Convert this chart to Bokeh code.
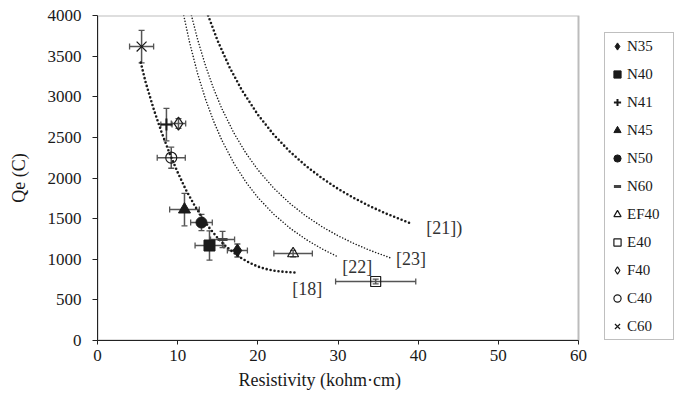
from bokeh.plotting import figure
from bokeh.models import (Range1d, Legend, LegendItem, Whisker, ColumnDataSource,
                          TeeHead, Label, FixedTicker, BoxAnnotation, Title)
from bokeh.embed import file_html
from bokeh.resources import INLINE

# ---------------- data ----------------
series = ["N35", "N40", "N41", "N45", "N50", "N60", "EF40", "E40", "F40", "C40", "C60"]
resistivity = [17.45, 13.97, 8.6, 10.85, 12.97, 15.6, 24.4, 34.7, 10.1, 9.2, 5.5]
qe = [1108, 1169, 2658, 1612, 1452, 1243, 1070, 726, 2670, 2250, 3618]
resistivity_err = [1.25, 1.8, 0.7, 1.85, 1.35, 1.5, 2.4, 5.0, 0.9, 1.75, 1.5]
qe_err = [80, 180, 200, 200, 100, 100, 40, 30, 60, 130, 200]

ref18_x = [5.4, 6, 7, 8, 9, 10, 11, 12, 13, 14, 15, 16, 17, 18, 19, 20, 21, 22, 23, 24, 24.8]
ref18_y = [3420, 3180, 2850, 2560, 2300, 2070, 1860, 1680, 1520, 1380, 1260, 1160, 1080,
           1010, 955, 910, 880, 860, 848, 840, 835]
ref22_x = [10.76, 11.5, 12.5, 13.5, 14.5, 15.5, 17, 18.5, 20, 22, 24, 26, 28, 29.9]
ref22_y = [4000, 3663, 3280, 2962, 2695, 2467, 2183, 1952, 1760, 1552, 1383, 1244, 1128, 1034]
ref23_x = [11.72, 12.5, 13.5, 14.5, 15.5, 17, 18.5, 20, 22, 24, 26, 28, 30, 32, 34, 36.5]
ref23_y = [4000, 3701, 3373, 3095, 2856, 2556, 2308, 2101, 1873, 1687, 1532, 1401, 1289,
           1193, 1109, 1018]
ref21_x = [13.8, 15, 16.5, 18, 20, 22, 24, 26, 28, 30, 32, 34, 36, 39]
ref21_y = [4000, 3686, 3357, 3082, 2780, 2531, 2324, 2149, 1998, 1867, 1753, 1652, 1562, 1444]
curve_labels = ["[18]", "[22]", "[23]", "[21])"]

x_min, x_max = 0, 60
y_min, y_max = 0, 4000
x_ticks = [0, 10, 20, 30, 40, 50, 60]
y_ticks = [0, 500, 1000, 1500, 2000, 2500, 3000, 3500, 4000]

# ---------------- style / layout ----------------
FONT = "Liberation Serif"
TXT = "#1a1a1a"
INK = "#1a1a1a"
BAR = "#555555"

W, H = 675, 400
LEFT, TOP, BOTTOM = 97, 15, 60
AXES_W = 481                     # width of the drawn axes box in px
FRAME_W = W - LEFT               # frame runs to the right edge so the legend can sit beside the box
x_view_end = x_min + (x_max - x_min) * FRAME_W / AXES_W

marker_style = {
    "N35": dict(marker="diamond", size=13, fill_color=INK, line_color=INK),
    "N40": dict(marker="square", size=11, fill_color=INK, line_color=INK),
    "N41": dict(marker="cross", size=12, fill_color=None, line_color=INK, line_width=2),
    "N45": dict(marker="triangle", size=12, fill_color=INK, line_color=INK),
    "N50": dict(marker="circle", size=11, fill_color=INK, line_color=INK),
    "N60": dict(marker="dash", size=10, fill_color=None, line_color="#444444", line_width=3),
    "EF40": dict(marker="triangle", size=11, fill_color=None, line_color=INK, line_width=1.2),
    "E40": dict(marker="square", size=10, fill_color=None, line_color=INK, line_width=1.2),
    "F40": dict(marker="diamond", size=13, fill_color=None, line_color=INK, line_width=1.2),
    "C40": dict(marker="circle", size=11, fill_color=None, line_color=INK, line_width=1.2),
    "C60": dict(marker="x", size=14, fill_color=None, line_color=INK, line_width=1.2),
}

p = figure(width=W, height=H, output_backend="svg", toolbar_location=None,
           x_range=Range1d(x_min, x_view_end), y_range=Range1d(y_min, y_max),
           min_border_left=LEFT, min_border_right=0, min_border_top=TOP,
           min_border_bottom=BOTTOM)
p.grid.visible = False
p.outline_line_color = None
p.background_fill_color = "white"
p.border_fill_color = "white"

# axes box (top and right edges of the plot area)
p.add_layout(BoxAnnotation(left=x_min, right=x_max, bottom=y_min, top=y_max,
                           fill_alpha=0, line_color="#222222", line_width=2,
                           level="underlay"))

for ax in (p.xaxis[0], p.yaxis[0]):
    ax.axis_line_color = "#222222"
    ax.major_tick_line_color = "#222222"
    ax.minor_tick_line_color = None
    ax.major_tick_in = 0
    ax.major_label_text_font = FONT
    ax.major_label_text_font_size = "17px"
    ax.major_label_text_color = TXT
    ax.axis_label_text_font = FONT
    ax.axis_label_text_font_style = "normal"
    ax.axis_label_text_font_size = "18px"
    ax.axis_label_text_color = TXT

p.xaxis.bounds = (x_min, x_max)
p.xaxis.ticker = FixedTicker(ticks=x_ticks)
p.yaxis.ticker = FixedTicker(ticks=y_ticks)
p.xaxis.major_tick_out = 4
p.yaxis.major_tick_out = 5
p.xaxis.major_label_standoff = 5
p.yaxis.major_label_standoff = 11
p.yaxis.axis_label = "Qe (C)"
p.yaxis.axis_label_standoff = 16

p.add_layout(Title(text="Resistivity (kohm·cm)", align="left", offset=141,
                   text_font=FONT, text_font_size="18px", text_font_style="normal",
                   text_color=TXT, standoff=8), "below")

# fitted curves (dotted)
curves = [
    (ref18_x, ref18_y, 2.6, "0 4"),
    (ref22_x, ref22_y, 1.6, "0 3"),
    (ref23_x, ref23_y, 1.6, "0 3"),
    (ref21_x, ref21_y, 2.6, "0 4"),
]
for xs, ys, w, dash in curves:
    p.line(xs, ys, line_color=INK, line_width=w, line_dash=dash, line_cap="round")

# curve labels anchored to curve ends
label_offsets = [(-4, -16), (5, -11), (6, -1), (16, -5)]
for (xs, ys, _, _), txt, (dx, dy) in zip(curves, curve_labels, label_offsets):
    p.add_layout(Label(x=xs[-1], y=ys[-1], x_offset=dx, y_offset=dy, text=txt,
                       text_font=FONT, text_font_size="18px", text_color="#333333",
                       text_align="left", text_baseline="middle"))

# error bars
src = ColumnDataSource(dict(
    x=resistivity, y=qe,
    x_lo=[a - e for a, e in zip(resistivity, resistivity_err)],
    x_hi=[a + e for a, e in zip(resistivity, resistivity_err)],
    y_lo=[a - e for a, e in zip(qe, qe_err)],
    y_hi=[a + e for a, e in zip(qe, qe_err)],
))


def head():
    return TeeHead(size=6, line_color=BAR, line_width=1.3)


p.add_layout(Whisker(source=src, base="x", lower="y_lo", upper="y_hi", dimension="height",
                     line_color=BAR, line_width=1.5, lower_head=head(), upper_head=head(),
                     level="underlay"))
p.add_layout(Whisker(source=src, base="y", lower="x_lo", upper="x_hi", dimension="width",
                     line_color=BAR, line_width=1.5, lower_head=head(), upper_head=head(),
                     level="underlay"))

items = []
for name, xv, yv in zip(series, resistivity, qe):
    r = p.scatter([xv], [yv], **marker_style[name])
    items.append(LegendItem(label=name, renderers=[r]))

legend = Legend(items=items, location=(AXES_W + 26, 0), orientation="vertical",
                label_text_font=FONT, label_text_font_size="15px", label_text_color=TXT,
                border_line_color="#808080", border_line_width=1,
                background_fill_color="white", background_fill_alpha=1.0,
                padding=3, spacing=8, margin=0,
                glyph_width=18, glyph_height=20, label_height=20, label_width=43,
                label_standoff=1)
p.add_layout(legend, "center")

open("out.html", "w").write(file_html(p, INLINE))
